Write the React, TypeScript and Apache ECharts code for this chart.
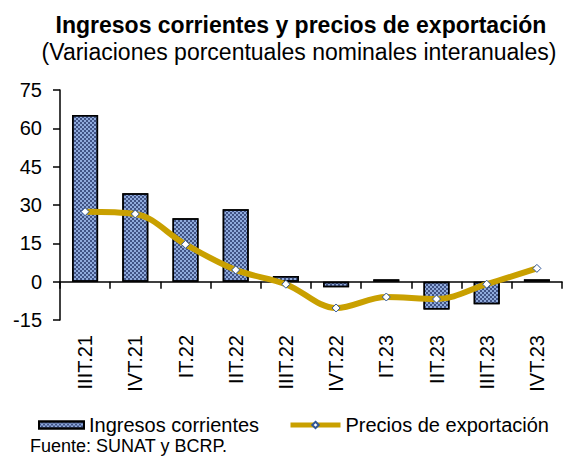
import React, { useEffect, useRef } from "react";
import * as echarts from "echarts";

const categories = ["IIIT.21", "IVT.21", "IT.22", "IIT.22", "IIIT.22", "IVT.22", "IT.23", "IIT.23", "IIIT.23", "IVT.23"];
const ingresos = [65.2, 34.6, 24.8, 28.3, 2.2, -2.2, 0.9, -10.9, -8.8, 0.9];
const precios = [27.4, 26.5, 14.6, 4.6, -1.0, -10.3, -6.0, -6.8, -1.0, 5.2];
const yTicks = { min: -15, max: 75, interval: 15 };

const FONT = "'Liberation Sans', Arial, sans-serif";
const GOLD = "#C9A000";

export default function App() {
  const ref = useRef<HTMLDivElement>(null);
  useEffect(() => {
    if (!ref.current) return;
    const chart = echarts.init(ref.current, null, { renderer: "svg" });
    const barDecal = {
      symbol: "rect",
      symbolSize: 1,
      dashArrayX: [[2, 2], [0, 2, 2, 0]],
      dashArrayY: [2, 0],
      color: "rgba(30,45,95,0.7)",
    };
    chart.setOption({
      animation: false,
      textStyle: { fontFamily: FONT },
      graphic: [
        {
          type: "text",
          x: 301,
          y: 25,
          style: {
            text: "Ingresos corrientes y precios de exportación",
            font: `bold 23px ${FONT}`,
            fill: "#000",
            align: "center",
            verticalAlign: "middle",
          },
        },
        {
          type: "text",
          x: 299,
          y: 52,
          style: {
            text: "(Variaciones porcentuales nominales interanuales)",
            font: `23px ${FONT}`,
            fill: "#000",
            align: "center",
            verticalAlign: "middle",
          },
        },
        {
          type: "text",
          x: 30,
          y: 446,
          style: {
            text: "Fuente: SUNAT y BCRP.",
            font: `18px ${FONT}`,
            fill: "#000",
            align: "left",
            verticalAlign: "middle",
          },
        },
      ],
      grid: { left: 60, right: 14, top: 90, bottom: 136, containLabel: false },
      legend: [
        {
          left: 38,
          top: 415,
          padding: 0,
          itemWidth: 45,
          itemHeight: 7,
          textStyle: { fontFamily: FONT, fontSize: 20, color: "#000" },
          data: [{ name: "Ingresos corrientes", icon: "rect" }],
        },
        {
          left: 288,
          top: 415,
          padding: 0,
          itemWidth: 50,
          itemHeight: 8,
          textStyle: { fontFamily: FONT, fontSize: 20, color: "#000" },
          lineStyle: { width: 5, color: GOLD },
          data: [{ name: "Precios de exportación" }],
        },
      ],
      xAxis: [
        {
          type: "category",
          data: categories,
          axisLine: { onZero: true, lineStyle: { color: "#000", width: 1.5 } },
          axisTick: { show: true, length: 7, lineStyle: { color: "#000", width: 1.5 } },
          axisLabel: { show: false },
        },
        {
          type: "category",
          data: categories,
          position: "bottom",
          axisLine: { show: false, onZero: false },
          axisTick: { show: false },
          axisLabel: {
            rotate: 90,
            margin: 15,
            fontFamily: FONT,
            fontSize: 20,
            color: "#000",
          },
        },
      ],
      yAxis: {
        type: "value",
        min: yTicks.min,
        max: yTicks.max,
        interval: yTicks.interval,
        splitLine: { show: false },
        axisLine: { show: true, lineStyle: { color: "#000", width: 1.5 } },
        axisTick: { show: true, length: 7, lineStyle: { color: "#000", width: 1.5 } },
        axisLabel: { margin: 18, fontFamily: FONT, fontSize: 20, color: "#000" },
      },
      series: [
        {
          name: "Ingresos corrientes",
          type: "bar",
          data: ingresos,
          barWidth: 26,
          itemStyle: {
            color: "#8FAADC",
            borderColor: "#000",
            borderWidth: 1.5,
            decal: barDecal,
          },
        },
        {
          name: "Precios de exportación",
          type: "line",
          data: precios,
          smooth: 0.35,
          symbol: "diamond",
          symbolSize: 8,
          lineStyle: { color: GOLD, width: 6 },
          itemStyle: { color: "#FFFFFF", borderColor: "#2F5597", borderWidth: 1 },
          z: 3,
        },
      ],
    });
    return () => chart.dispose();
  }, []);
  return <div ref={ref} style={{ position: "absolute", left: 0, top: 0, width: 576, height: 456 }} />;
}
